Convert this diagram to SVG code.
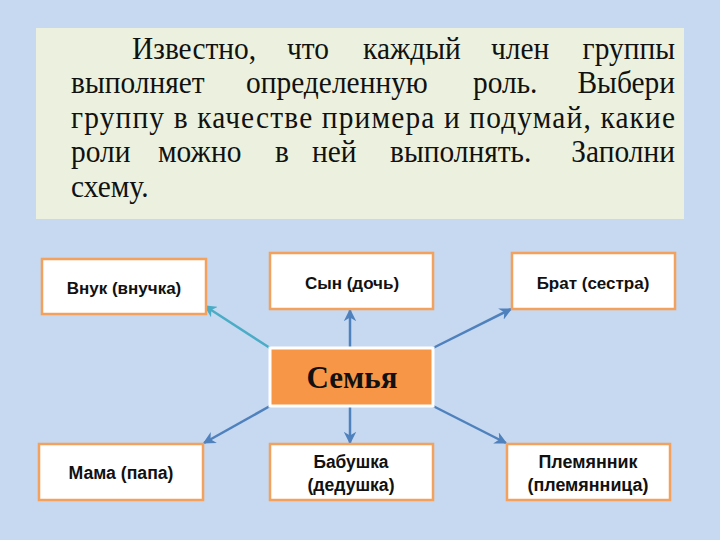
<svg xmlns="http://www.w3.org/2000/svg" width="720" height="540" viewBox="0 0 720 540">
<style>
.bg{fill:#C6D9F1}
.panel{fill:#EBF1DE}
.t{font-family:"Liberation Serif","Times New Roman",serif;font-size:32px;fill:#111}
.box{fill:#FFFFFF;stroke:#F4A15E;stroke-width:2.5}
.center{fill:#F79646;stroke:#FFFFFF;stroke-width:3}
.lbl{font-family:"Liberation Sans",Arial,sans-serif;font-weight:bold;font-size:17px;fill:#111;text-anchor:middle}
.lbl2{font-family:"Liberation Sans",Arial,sans-serif;font-weight:bold;font-size:18px;fill:#111;text-anchor:middle}
.big{font-family:"Liberation Serif","Times New Roman",serif;font-weight:bold;font-size:31px;fill:#111;text-anchor:middle}
.c{stroke:#4F81BD;stroke-width:2.5;fill:none;marker-end:url(#ah)}
.c2{stroke:#4BACC6;stroke-width:2.5;fill:none;marker-end:url(#ah2)}
</style>
<defs>
<marker id="ah" viewBox="0 0 10 10" refX="9" refY="5" markerWidth="5" markerHeight="5" orient="auto" markerUnits="strokeWidth">
<path d="M0,0 L10,5 L0,10 L3,5 Z" fill="#4F81BD"/>
</marker>
<marker id="ah2" viewBox="0 0 10 10" refX="9" refY="5" markerWidth="5" markerHeight="5" orient="auto" markerUnits="strokeWidth">
<path d="M0,0 L10,5 L0,10 L3,5 Z" fill="#4BACC6"/>
</marker>
</defs>
<rect class="bg" x="0" y="0" width="720" height="540"/>
<g id="task">
<rect class="panel" x="36" y="28" width="648" height="191"/>
<g transform="scale(0.92 1)">
<text class="t" y="59"><tspan x="143.5">Известно,</tspan><tspan x="312">что</tspan><tspan x="394.6">каждый</tspan><tspan x="533.7">член</tspan><tspan x="733.7" text-anchor="end">группы</tspan></text>
<text class="t" y="93"><tspan x="77.2">выполняет</tspan><tspan x="267.4">определенную</tspan><tspan x="514.1">роль.</tspan><tspan x="733.7" text-anchor="end">Выбери</tspan></text>
<text class="t" x="77.2" y="128" textLength="656.5" lengthAdjust="spacing">группу в качестве примера и подумай, какие</text>
<text class="t" y="162"><tspan x="77.2">роли</tspan><tspan x="171.7">можно</tspan><tspan x="298.9">в</tspan><tspan x="339.1">ней</tspan><tspan x="423.9">выполнять.</tspan><tspan x="733.7" text-anchor="end">Заполни</tspan></text>
<text class="t" x="77.2" y="197">схему.</text>
</g>
</g>
<g id="connectors">
<line class="c2" x1="270" y1="348" x2="205" y2="306"/>
<line class="c" x1="350" y1="348" x2="350" y2="310"/>
<line class="c" x1="433" y1="348" x2="511" y2="309"/>
<line class="c" x1="270" y1="406" x2="204" y2="443"/>
<line class="c" x1="350" y1="406" x2="350" y2="443"/>
<line class="c" x1="433" y1="406" x2="506" y2="443"/>
</g>
<g id="n-semya">
<rect class="center" x="270" y="348" width="163" height="58"/>
<text class="big" x="352" y="388">Семья</text>
</g>
<g id="n-vnuk">
<rect class="box" x="42" y="259" width="164" height="55"/>
<text class="lbl" x="124" y="294">Внук (внучка)</text>
</g>
<g id="n-syn">
<rect class="box" x="270" y="253" width="163" height="56"/>
<text class="lbl" x="352" y="289">Сын (дочь)</text>
</g>
<g id="n-brat">
<rect class="box" x="512" y="253" width="163" height="56"/>
<text class="lbl" x="593" y="289">Брат (сестра)</text>
</g>
<g id="n-mama">
<rect class="box" x="39" y="444" width="164" height="56"/>
<text class="lbl2" x="121" y="479" textLength="105" lengthAdjust="spacingAndGlyphs">Мама (папа)</text>
</g>
<g id="n-babushka">
<rect class="box" x="270" y="444" width="163" height="56"/>
<text class="lbl2" x="351" y="468" textLength="75" lengthAdjust="spacingAndGlyphs">Бабушка</text>
<text class="lbl2" x="351" y="491" textLength="87" lengthAdjust="spacingAndGlyphs">(дедушка)</text>
</g>
<g id="n-plem">
<rect class="box" x="507" y="444" width="163" height="56"/>
<text class="lbl2" x="588" y="468" textLength="99" lengthAdjust="spacingAndGlyphs">Племянник</text>
<text class="lbl2" x="588" y="491" textLength="121" lengthAdjust="spacingAndGlyphs">(племянница)</text>
</g>
</svg>
